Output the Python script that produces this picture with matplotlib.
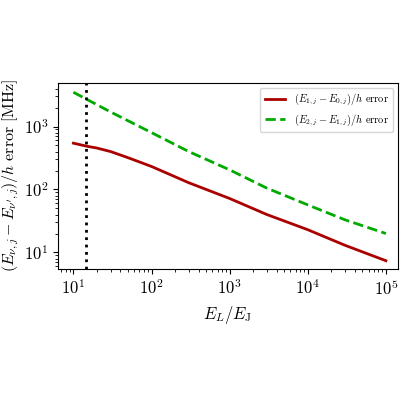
import matplotlib
matplotlib.use("Agg")
import matplotlib.pyplot as plt

plt.rcParams['mathtext.fontset'] = 'cm'
plt.rcParams['font.family'] = 'serif'
plt.rcParams['font.serif'] = ['cmr10', 'DejaVu Serif']
plt.rcParams['axes.formatter.use_mathtext'] = True

x_red = [10, 15, 20, 30, 50, 100, 300, 1000, 3000, 1e4, 3e4, 1e5]
y_red = [544, 485, 455, 400, 320, 232, 128, 72, 40, 23, 13, 7.4]
x_green = [10, 30, 100, 300, 1000, 3000, 1e4, 3e4, 1e5]
y_green = [3500, 1700, 800, 400, 205, 105, 57, 33, 20]
x_marker = 14.6

fig = plt.figure(figsize=(4, 4), dpi=100)
ax = fig.add_axes([0.145, 0.328, 0.85, 0.465])
ax.plot(x_red, y_red, color='#aa0000', lw=2, label=r'$(E_{1,j}-E_{0,j})/h$ $\mathrm{error}$')
ax.plot(x_green, y_green, color='#00aa00', lw=2, ls='--', label=r'$(E_{2,j}-E_{1,j})/h$ $\mathrm{error}$')
ax.axvline(x_marker, color='black', ls=':', lw=2)
ax.set_xscale('log')
ax.set_yscale('log')
ax.set_xlim(10**0.803, 10**5.155)
ax.set_ylim(10**0.741, 10**3.694)
ax.tick_params(labelsize=12)
ax.set_xlabel(r'$E_L/E_\mathrm{J}$', fontsize=12)
ax.set_ylabel(r'$(E_{\nu,j}-E_{\nu^\prime,j})/h\ \mathrm{error\ [MHz]}$', fontsize=11.5, labelpad=2)
ax.legend(loc='upper right', fontsize=7.5)
fig.savefig('out.png')
